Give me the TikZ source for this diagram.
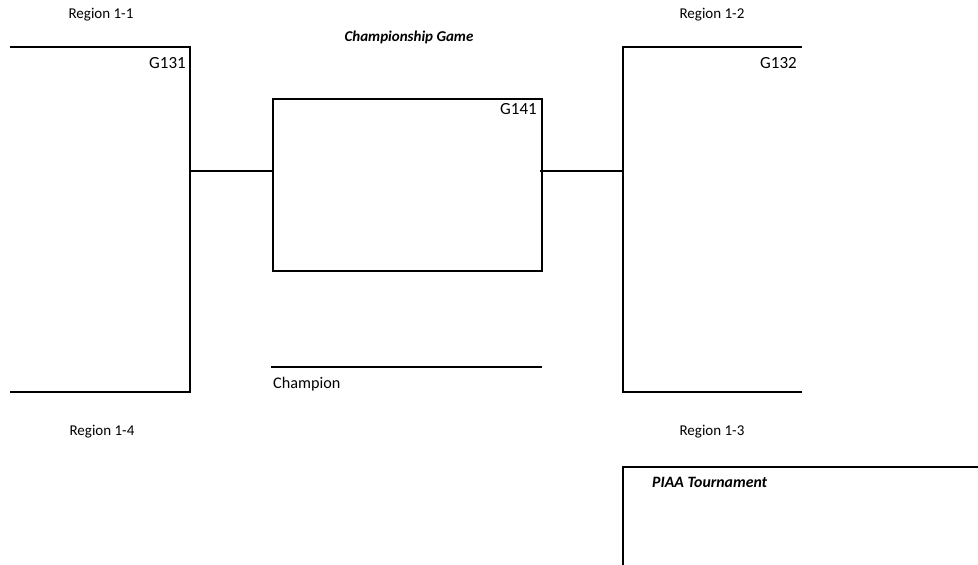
\documentclass[tikz,border=0pt]{standalone}
\usepackage{fontspec}
\setmainfont{Carlito}
\begin{document}
\begin{tikzpicture}[x=1pt,y=-1pt,
  bline/.style={line width=2pt, line cap=rect},
  reglabel/.style={font=\fontsize{15}{18}\selectfont, inner sep=0pt},
  champlabel/.style={font=\fontsize{16.2}{19}\selectfont, inner sep=0pt, anchor=west},
  glabel/.style={font=\fontsize{17}{20}\selectfont, inner sep=0pt, anchor=east},
  titlelabel/.style={font=\fontsize{15}{18}\selectfont\bfseries\itshape, inner sep=0pt},
  piaalabel/.style={font=\fontsize{15.8}{19}\selectfont\bfseries\itshape, inner sep=0pt, anchor=west}]
\useasboundingbox (0,0) rectangle (978,565);
% bracket frames
\coordinate (a1) at (11,47);
\coordinate (a2) at (190,47);
\coordinate (a3) at (190,392);
\coordinate (a4) at (11,392);
\coordinate (b1) at (801,47);
\coordinate (b2) at (623,47);
\coordinate (b3) at (623,392);
\coordinate (b4) at (801,392);
\draw[bline] (a1) -- (a2) -- (a3) -- (a4);
\draw[bline] (b1) -- (b2) -- (b3) -- (b4);
% championship box
\node[draw, line width=2pt, minimum width=269pt, minimum height=172pt, inner sep=0pt, anchor=north west] (g141box) at (272,97.5) {};
% connectors
\coordinate (j1) at (190,171);
\coordinate (j2) at (272,171);
\coordinate (j3) at (541,171);
\coordinate (j4) at (623,171);
\draw[bline] (j1) -- (j2);
\draw[bline] (j3) -- (j4);
% champion line
\coordinate (c1) at (272,367);
\coordinate (c2) at (541,367);
\draw[bline] (c1) -- (c2);
% PIAA frame
\coordinate (p1) at (623,566);
\coordinate (p2) at (623,467);
\coordinate (p3) at (979,467);
\draw[line width=2pt] (p1) -- (p2) -- (p3);
% labels
\node[reglabel] (r11) at (101,15) {Region 1-1};
\node[reglabel] (r12) at (712,15) {Region 1-2};
\node[reglabel] (r14) at (102,432) {Region 1-4};
\node[reglabel] (r13) at (712,432) {Region 1-3};
\node[titlelabel] (title) at (409,37) {Championship Game};
\node[glabel] (g131) at (186,63) {G131};
\node[glabel] (g132) at (797,63) {G132};
\node[glabel] (g141) at (537,109) {G141};
\node[champlabel] (champ) at (273,384) {Champion};
\node[piaalabel] (piaa) at (652,482) {PIAA Tournament};
\end{tikzpicture}
\end{document}
